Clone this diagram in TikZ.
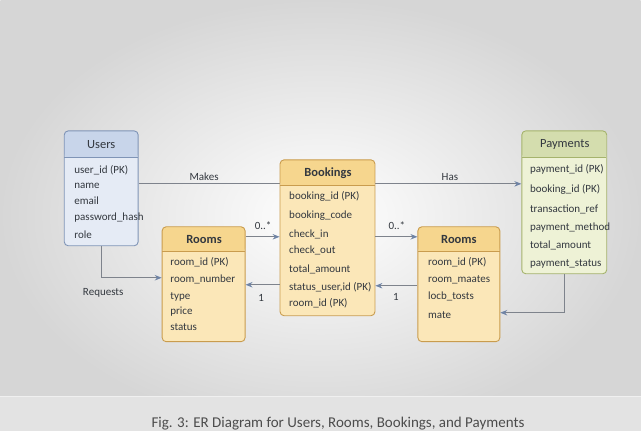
\documentclass[tikz,border=0pt]{standalone}
\usepackage{fontspec}
\setmainfont{Carlito}
\usetikzlibrary{calc}
\usetikzlibrary{arrows.meta}

\definecolor{userline}{HTML}{7F94B6}
\definecolor{userhead}{HTML}{C8D5EA}
\definecolor{userbody}{HTML}{E5EBF5}
\definecolor{roomline}{HTML}{C99C4E}
\definecolor{roomhead}{HTML}{F6D68E}
\definecolor{roombody}{HTML}{FBE7B8}
\definecolor{payline}{HTML}{A5B36C}
\definecolor{payhead}{HTML}{D4DDAE}
\definecolor{paybody}{HTML}{EEF2D6}
\definecolor{linkgray}{HTML}{7E838C}
\definecolor{tipblue}{HTML}{6F84A6}
\definecolor{txt}{HTML}{33383F}

\tikzset{
  entity/.style n args={4}{draw=#1, fill=#2, line width=0.9pt, rounded corners=4pt, inner sep=0pt,
    path picture={\fill[#3] (path picture bounding box.north west) rectangle ([yshift=-#4]path picture bounding box.north east);
      \draw[#1, line width=1.1pt] ([yshift=-#4]path picture bounding box.north west) -- ([yshift=-#4]path picture bounding box.north east);}},
  title/.style={text=txt, inner sep=0pt, font=\fontsize{12.5}{14}\selectfont},
  attr/.style={anchor=west, text=txt, inner sep=0pt, font=\fontsize{11}{13}\selectfont},
  tag/.style={text=txt, inner sep=0pt, font=\fontsize{11}{13}\selectfont},
  link/.style={linkgray, line width=0.9pt, -{Stealth[length=7pt,width=5.5pt,color=tipblue]}}
}

\begin{document}
\begin{tikzpicture}[x=1pt,y=-1pt]

% backdrop and caption band
\shade[inner color=white, outer color=black!16] (0,0) rectangle (641,431);
\fill[black!11] (0,397) rectangle (641,431);
\draw[black!6, line width=0.6pt] (0,397) -- (641,397);
\useasboundingbox (0,0) rectangle (641,431);

% entity boxes (empty frames first, lines go under them)
\node[entity={userline}{userbody}{userhead}{27pt}, minimum width=74pt, minimum height=115pt] (users) at (101,188.5) {};
\node[entity={payline}{paybody}{payhead}{27pt}, minimum width=85pt, minimum height=143pt] (pay) at (564.5,202.5) {};

% relations
\draw[link] (users.east |- 0,184) -- (pay.west |- 0,184);
\node[tag] (makes) at (204,177) {Makes};
\node[tag] (has) at (450,177) {Has};

\node[entity={roomline}{roombody}{roomhead}{26pt}, minimum width=95pt, minimum height=156pt] (book) at (327.5,238) {};
\node[entity={roomline}{roombody}{roomhead}{25pt}, minimum width=83pt, minimum height=115pt] (roomsA) at (203.5,284.5) {};
\node[entity={roomline}{roombody}{roomhead}{25pt}, minimum width=82pt, minimum height=115pt] (roomsB) at (459,284.5) {};

\draw[link] (users.south) |- (roomsA.west |- 0,278);
\node[tag] (requests) at (103,293) {Requests};

\draw[link] (roomsA.east |- 0,237) -- (book.west |- 0,237);
\node[tag] (mA) at (263,226) {0..*};
\draw[link] (book.west |- 0,285) -- (roomsA.east |- 0,285);
\node[tag] (oA) at (261,298) {1};

\draw[link] (book.east |- 0,237) -- (roomsB.west |- 0,237);
\node[tag] (mB) at (397,226) {0..*};
\draw[link] (roomsB.west |- 0,286) -- (book.east |- 0,286);
\node[tag] (oB) at (396,297) {1};

\draw[link] (pay.south) |- (roomsB.east |- 0,313);

% titles
\node[title] (tu) at (101,144.5) {Users};
\node[title, font=\fontsize{12.5}{14}\selectfont\bfseries] (tb) at (328,173) {Bookings};
\node[title, font=\fontsize{12.5}{14}\selectfont\bfseries] (tra) at (204,240) {Rooms};
\node[title, font=\fontsize{12.5}{14}\selectfont\bfseries] (trb) at (459,240) {Rooms};
\node[title] (tp) at (565,145) {Payments};

% attributes
\foreach \t/\y [count=\i] in {user\_id (PK)/170, name/186, email/201, password\_hash/218, role/235}
  \node[attr] (u\i) at (74,\y) {\t};
\foreach \t/\y [count=\i] in {room\_id (PK)/262, room\_number/280, type/297, price/312, status/327}
  \node[attr] (ra\i) at (170,\y) {\t};
\foreach \t/\y [count=\i] in {booking\_id (PK)/197, booking\_code/216, check\_in/235, check\_out/251,
    total\_amount/270, {status\_user,id (PK)}/288, room\_id (PK)/304}
  \node[attr] (b\i) at (289,\y) {\t};
\foreach \t/\y [count=\i] in {room\_id (PK)/262, room\_maates/280, locb\_tosts/297, mate/315}
  \node[attr] (rb\i) at (428,\y) {\t};
\foreach \t/\y [count=\i] in {payment\_id (PK)/170, booking\_id (PK)/190, transaction\_ref/210,
    payment\_method/228, total\_amount/246, payment\_status/264}
  \node[attr] (p\i) at (530,\y) {\t};

% caption
\node[anchor=base, text=black!70, inner sep=0pt, font=\fontsize{15}{17}\selectfont] (cap) at (338,428)
  {Fig. 3: ER Diagram for Users, Rooms, Bookings, and Payments};

\end{tikzpicture}
\end{document}
